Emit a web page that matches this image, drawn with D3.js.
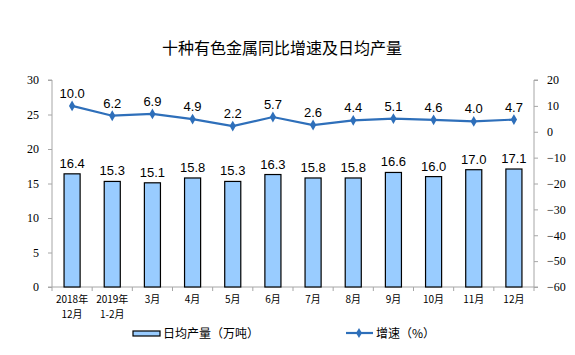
<!DOCTYPE html>
<html><head><meta charset="utf-8">
<script src="https://cdn.jsdelivr.net/npm/d3@7"></script>
<style>body{margin:0;background:#fff}</style>
</head><body>
<svg id="c" width="575" height="355"></svg>
<script>
const categories = [["2018年","12月"],["2019年","1-2月"],["3月"],["4月"],["5月"],["6月"],["7月"],["8月"],["9月"],["10月"],["11月"],["12月"]];
const output = [16.4,15.3,15.1,15.8,15.3,16.3,15.8,15.8,16.6,16.0,17.0,17.1];
const growth = [10.0,6.2,6.9,4.9,2.2,5.7,2.6,4.4,5.1,4.6,4.0,4.7];
const leftTicks = [0,5,10,15,20,25,30];
const rightTicks = [-60,-50,-40,-30,-20,-10,0,10,20];
const title = "十种有色金属同比增速及日均产量";
const legendBar = "日均产量（万吨）";
const legendLine = "增速（%）";

const svg = d3.select("#c");
const L = 52, R = 534, T = 80, B = 287;
const cjk = "'Noto Sans CJK SC', sans-serif";
const lineColor = "#2e6fba";
const axisColor = "#a6a6a6";

const x = d3.scaleBand().domain(d3.range(categories.length)).range([L, R]).paddingInner(0.6).paddingOuter(0.3);
const xb = d3.scaleBand().domain(d3.range(categories.length)).range([L, R]);
const yL = d3.scaleLinear().domain([0,30]).range([B, T]);
const yR = d3.scaleLinear().domain([-60,20]).range([B, T]);

svg.append("text").attr("x", 282).attr("y", 54).attr("text-anchor","middle")
  .style("font-family", cjk).style("font-size","16px").attr("fill","#000").text(title);

// left axis
const ga = svg.append("g").attr("transform",`translate(${L},0)`)
  .call(d3.axisLeft(yL).tickValues(leftTicks).tickSize(4).tickPadding(9));
ga.select(".domain").attr("stroke", axisColor).attr("d", `M-4,${T}H0V${B}H-4`);
ga.selectAll(".tick line").attr("stroke", axisColor);
ga.selectAll("text").style("font-family","'Liberation Serif', serif").style("font-size","12px").attr("fill","#000");

// right axis
const gr = svg.append("g").attr("transform",`translate(${R},0)`)
  .call(d3.axisRight(yR).tickValues(rightTicks).tickSize(4).tickPadding(9));
gr.select(".domain").attr("stroke", axisColor).attr("d", `M4,${T}H0V${B}H4`);
gr.selectAll(".tick line").attr("stroke", axisColor);
gr.selectAll("text").style("font-family","'Liberation Serif', serif").style("font-size","12px").attr("fill","#000");

// x axis
svg.append("line").attr("x1",L).attr("x2",R).attr("y1",B).attr("y2",B).attr("stroke",axisColor);
svg.selectAll(".xt").data(d3.range(categories.length+1)).enter().append("line")
  .attr("x1", i => L + i*xb.bandwidth()).attr("x2", i => L + i*xb.bandwidth())
  .attr("y1", B).attr("y2", B+4).attr("stroke", axisColor);

const xl = svg.selectAll(".xl").data(categories).enter().append("text")
  .attr("text-anchor","middle").style("font-family",cjk).style("font-size","10px").attr("fill","#000");
xl.each(function(d,i){
  const t = d3.select(this);
  d.forEach((s,j)=> t.append("tspan").attr("x", xb(i)+xb.bandwidth()/2).attr("y", 303 + j*15).text(s));
});

// bars
svg.selectAll(".bar").data(output).enter().append("rect")
  .attr("x",(d,i)=>x(i)).attr("width",x.bandwidth())
  .attr("y", d=>yL(d)).attr("height", d=>B-yL(d))
  .attr("fill","#99ccff").attr("stroke","#000").attr("stroke-width",1.2);
svg.selectAll(".bl").data(output).enter().append("text")
  .attr("x",(d,i)=>x(i)+x.bandwidth()/2).attr("y", d=>yL(d)-6)
  .attr("text-anchor","middle").style("font-family","'Liberation Sans', Arial, sans-serif").style("font-size","13px")
  .attr("fill","#000").text(d=>d.toFixed(1));

// line
const cx = i => xb(i)+xb.bandwidth()/2;
svg.append("path").datum(growth)
  .attr("d", d3.line().x((d,i)=>cx(i)).y(d=>yR(d)))
  .attr("fill","none").attr("stroke",lineColor).attr("stroke-width",2.2);
svg.selectAll(".pt").data(growth).enter().append("path")
  .attr("transform",(d,i)=>`translate(${cx(i)},${yR(d)})`)
  .attr("d", d3.symbol(d3.symbolDiamond, 34)).attr("fill",lineColor);
svg.selectAll(".gl").data(growth).enter().append("text")
  .attr("x",(d,i)=>cx(i)).attr("y", d=>yR(d)-8)
  .attr("text-anchor","middle").style("font-family","'Liberation Sans', Arial, sans-serif").style("font-size","13px")
  .attr("fill","#000").text(d=>d.toFixed(1));

// legend
svg.append("rect").attr("x",133).attr("y",331).attr("width",27).attr("height",5)
  .attr("fill","#99ccff").attr("stroke","#000").attr("stroke-width",1.2);
svg.append("text").attr("x",163).attr("y",338).style("font-family",cjk).style("font-size","12px").attr("fill","#000").text(legendBar);
svg.append("line").attr("x1",346).attr("x2",373).attr("y1",333).attr("y2",333).attr("stroke",lineColor).attr("stroke-width",2.2);
svg.append("path").attr("transform","translate(359,333)").attr("d", d3.symbol(d3.symbolDiamond,30)).attr("fill",lineColor);
svg.append("text").attr("x",376).attr("y",338).style("font-family",cjk).style("font-size","12px").attr("fill","#000").text(legendLine);
</script>
</body></html>
